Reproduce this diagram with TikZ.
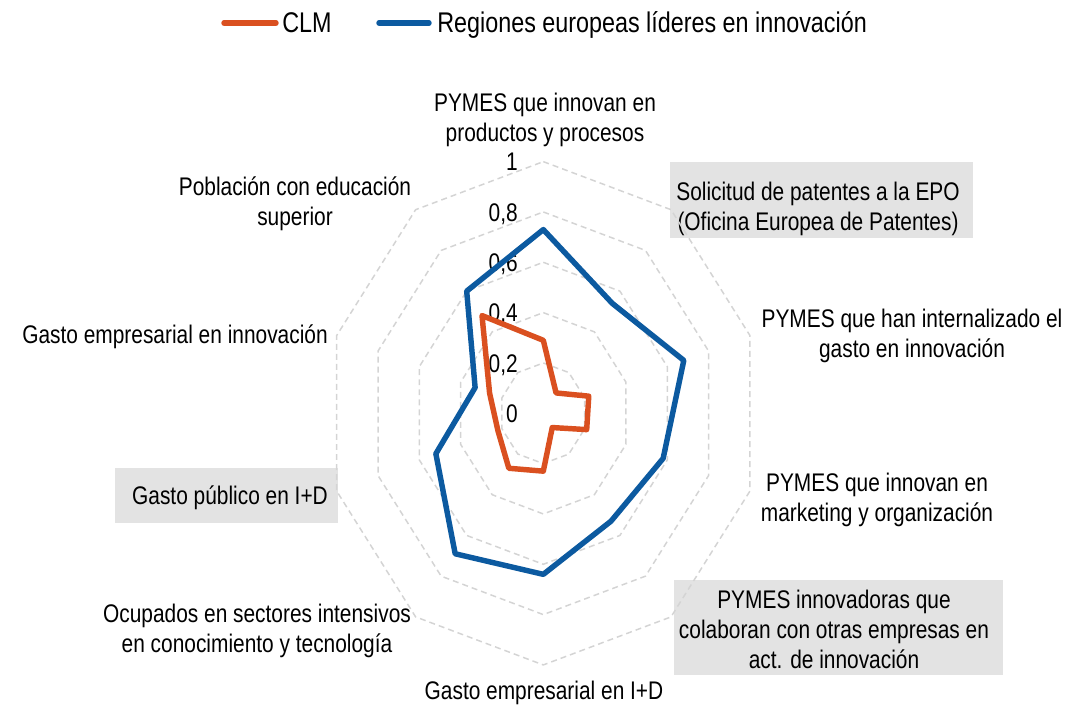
\documentclass[tikz,border=0pt]{standalone}
\usepackage{fontspec}
\setmainfont{Liberation Sans}[FakeStretch=0.82]
\definecolor{clm}{RGB}{218,80,32}
\definecolor{lider}{RGB}{12,90,160}
\definecolor{rejilla}{RGB}{212,212,212}
\definecolor{caja}{RGB}{227,227,227}
\tikzset{
  etiqueta/.style={align=center, inner sep=0pt, font=\fontsize{14.5}{17.1}\selectfont},
  cifra/.style={anchor=base east, inner sep=0pt, font=\fontsize{14.5}{17.1}\selectfont},
  anillo/.style={rejilla, line width=0.85pt, dash pattern=on 3.4pt off 2.3pt},
  serie/.style={line width=3.1pt, line join=round},
  muestra/.style={line width=3.1pt, line cap=round}
}
\begin{document}
\begin{tikzpicture}[x=0.02cm, y=0.02cm]
    \useasboundingbox (0,0) rectangle (1091,705);
    % leyenda
    \coordinate (clmA) at (224,682);
    \coordinate (clmB) at (276,682);
    \coordinate (liderA) at (379,682);
    \coordinate (liderB) at (429,682);
    \draw[muestra, clm] (clmA) -- (clmB);
    \draw[muestra, lider] (liderA) -- (liderB);
    \node[anchor=base west, inner sep=0pt, font=\fontsize{16.2}{19}\selectfont] (legclm) at (282,672) {CLM};
    \node[anchor=base west, inner sep=0pt, font=\fontsize{16.2}{19}\selectfont] (leglider) at (437,672) {Regiones europeas líderes en innovación};
    % cajas grises
    \fill[caja] (670,467) rectangle (973,543);
    \fill[caja] (674,30) rectangle (1003,125);
    \fill[caja] (115,182) rectangle (338,237);
    % etiquetas de los ejes
    \node[etiqueta] (productos) at (545,585) {PYMES que innovan en\\productos y procesos};
    \node[etiqueta] (patentes) at (818,496) {Solicitud de patentes a la EPO\\(Oficina Europea de Patentes)};
    \node[etiqueta] (internalizado) at (912,369) {PYMES que han internalizado el\\gasto en innovación};
    \node[etiqueta] (marketing) at (877,205) {PYMES que innovan en\\marketing y organización};
    \node[etiqueta] (colaboran) at (834,76) {PYMES innovadoras que\\colaboran con otras empresas en\\act. de innovación};
    \node[etiqueta] (gastoID) at (544,12) {Gasto empresarial en I+D};
    \node[etiqueta] (ocupados) at (257,74) {Ocupados en sectores intensivos\\en conocimiento y tecnología};
    \node[etiqueta] (publico) at (230,207) {Gasto público en I+D};
    \node[etiqueta] (innovacion) at (175,368) {Gasto empresarial en innovación};
    \node[etiqueta] (poblacion) at (295,501) {Población con educación\\superior};
    % radar
    \begin{scope}[shift={(543.3,291.7)}, x=4.346cm, y=5.034cm]
        \foreach \r in {0.2,0.4,0.6,0.8,1}
            \draw[anillo] (90:\r) -- (54:\r) -- (18:\r) -- (-18:\r) -- (-54:\r) -- (-90:\r) -- (-126:\r) -- (-162:\r) -- (-198:\r) -- (-234:\r) -- cycle;
        \foreach \v/\t [count=\i] in {0/0, 0.2/{0,2}, 0.4/{0,4}, 0.6/{0,6}, 0.8/{0,8}, 1/1}
            \node[cifra] (cifra\i) at (-0.116,\v-0.036) {\t};
        \draw[serie, clm] (90:0.29) -- (54:0.10) -- (18:0.22) -- (-18:0.21) -- (-54:0.07) -- (-90:0.23) -- (-126:0.27) -- (-162:0.22) -- (-198:0.26) -- (-234:0.48) -- cycle;
        \draw[serie, lider] (90:0.73) -- (54:0.54) -- (18:0.68) -- (-18:0.58) -- (-54:0.53) -- (-90:0.64) -- (-126:0.69) -- (-162:0.52) -- (-198:0.33) -- (-234:0.60) -- cycle;
    \end{scope}
\end{tikzpicture}
\end{document}
